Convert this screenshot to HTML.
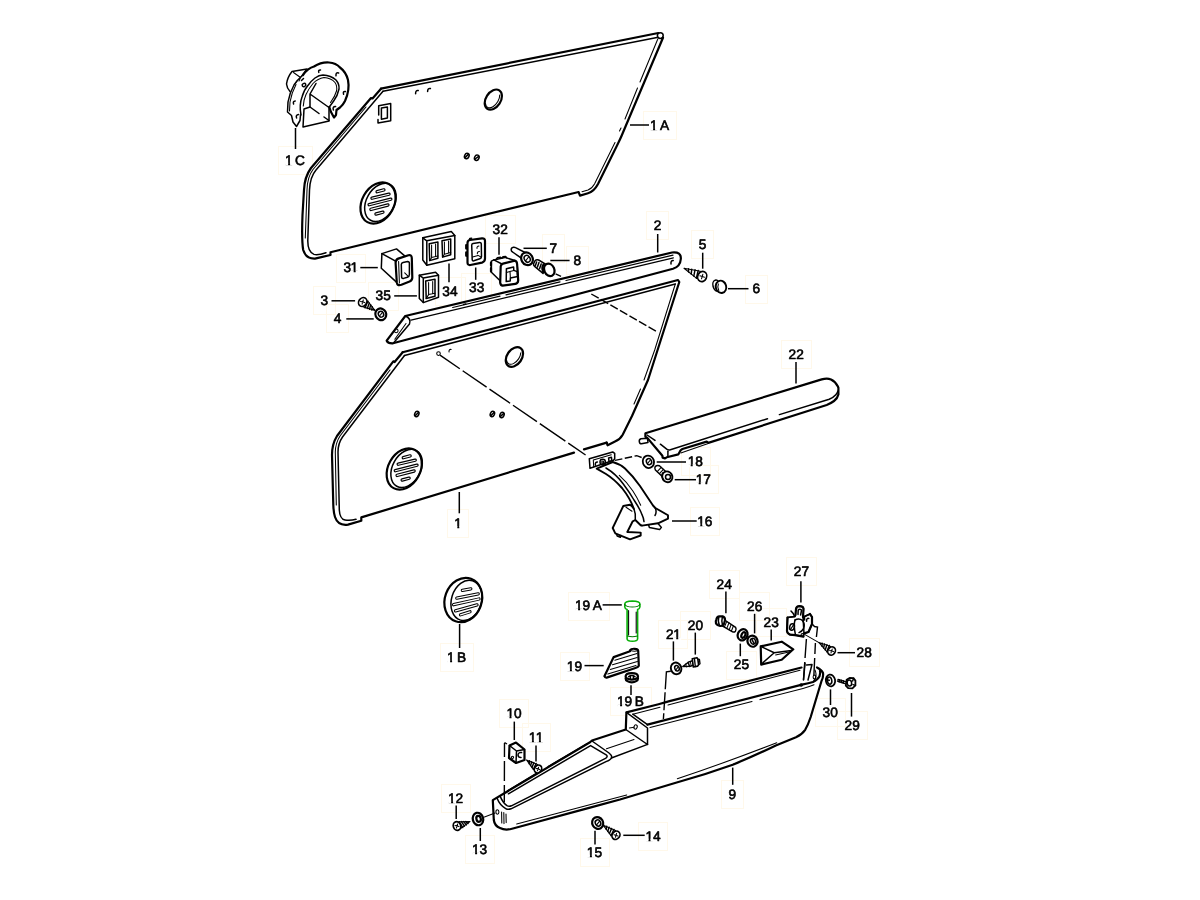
<!DOCTYPE html>
<html><head><meta charset="utf-8"><title>Door panel parts diagram</title>
<style>
html,body{margin:0;padding:0;background:#fff;}
body{width:1200px;height:900px;overflow:hidden;font-family:"Liberation Sans",sans-serif;}
svg{display:block;}
svg text{font-family:"Liberation Sans",sans-serif;font-size:13.7px;font-weight:normal;fill:#000;stroke:#000;stroke-width:0.62px;stroke-linejoin:round;text-rendering:geometricPrecision;}
.tx{filter:grayscale(1);}
.er{fill:#fff;stroke:none;}
.gl{fill:#000;stroke:#000;stroke-width:115;stroke-linejoin:round;}
.k{fill:none;stroke:#000;stroke-width:2.2;stroke-linecap:round;stroke-linejoin:round;}
.m{fill:none;stroke:#000;stroke-width:1.5;stroke-linecap:round;stroke-linejoin:round;}
.t{fill:none;stroke:#000;stroke-width:1.05;stroke-linecap:round;stroke-linejoin:round;}
.w{fill:#fff;stroke:#000;stroke-width:1.5;stroke-linecap:round;stroke-linejoin:round;}
.wk{fill:#fff;stroke:#000;stroke-width:2.2;stroke-linecap:round;stroke-linejoin:round;}
.wt{fill:#fff;stroke:#000;stroke-width:1.05;stroke-linecap:round;stroke-linejoin:round;}
.l{fill:none;stroke:#000;stroke-width:1.5;}
.d{fill:none;stroke:#000;stroke-width:1.4;}
.g{fill:#fff;stroke:#08b008;stroke-width:1.6;stroke-linejoin:round;}
</style></head><body>
<svg width="1200" height="900" viewBox="0 0 1200 900">
<rect x="0" y="0" width="1200" height="900" fill="#fff"/>
<g fill="none" stroke="#fff8ea" stroke-width="1"><rect x="643.5" y="111.5" width="33.0" height="28.0"/><rect x="278.5" y="146.5" width="34.0" height="28.0"/><rect x="646.5" y="211.5" width="22.0" height="28.0"/><rect x="447.5" y="509.5" width="21.0" height="28.0"/><rect x="781.5" y="340.5" width="30.0" height="28.0"/><rect x="690.5" y="507.5" width="29.0" height="28.0"/><rect x="681.5" y="447.5" width="29.0" height="28.0"/><rect x="689.5" y="465.5" width="29.0" height="28.0"/><rect x="336.5" y="254.5" width="29.0" height="28.0"/><rect x="435.5" y="277.5" width="30.0" height="28.0"/><rect x="368.5" y="282.5" width="30.0" height="28.0"/><rect x="461.5" y="273.5" width="30.0" height="28.0"/><rect x="485.5" y="215.5" width="30.0" height="28.0"/><rect x="542.5" y="234.5" width="22.0" height="28.0"/><rect x="566.5" y="246.5" width="22.0" height="28.0"/><rect x="313.5" y="286.5" width="22.0" height="28.0"/><rect x="326.5" y="304.5" width="22.0" height="28.0"/><rect x="691.5" y="230.5" width="22.0" height="28.0"/><rect x="745.5" y="275.5" width="22.0" height="28.0"/><rect x="721.5" y="780.5" width="22.0" height="28.0"/><rect x="440.5" y="643.5" width="33.0" height="28.0"/><rect x="568.5" y="592.5" width="41.0" height="28.0"/><rect x="560.5" y="652.5" width="29.0" height="28.0"/><rect x="610.5" y="687.5" width="41.0" height="28.0"/><rect x="658.5" y="620.5" width="29.0" height="28.0"/><rect x="680.5" y="611.5" width="30.0" height="28.0"/><rect x="709.5" y="570.5" width="30.0" height="28.0"/><rect x="726.5" y="651.5" width="30.0" height="28.0"/><rect x="739.5" y="592.5" width="30.0" height="28.0"/><rect x="756.5" y="608.5" width="30.0" height="28.0"/><rect x="786.5" y="557.5" width="30.0" height="28.0"/><rect x="849.5" y="638.5" width="30.0" height="28.0"/><rect x="815.5" y="698.5" width="30.0" height="28.0"/><rect x="837.5" y="711.5" width="30.0" height="28.0"/><rect x="499.5" y="699.5" width="29.0" height="28.0"/><rect x="522.5" y="723.5" width="28.0" height="28.0"/><rect x="441.5" y="784.5" width="29.0" height="28.0"/><rect x="465.5" y="835.5" width="29.0" height="28.0"/><rect x="580.5" y="838.5" width="29.0" height="28.0"/><rect x="638.5" y="822.5" width="29.0" height="28.0"/></g>
<!-- 00_defs.svg -->
<defs>
<g id="spk">
<ellipse class="wk" cx="0" cy="0" rx="16" ry="21.9" transform="rotate(29)"/>
<ellipse class="m" cx="2.4" cy="-0.6" rx="14" ry="20.4" transform="rotate(29 2.4 -0.6)"/>
<g stroke-linecap="round" fill="none">
<path stroke="#000" stroke-width="3.4" d="M-0.9,-11.3 L5.9,-13.1 M-6,-4.8 L11,-8.8 M-8.9,1.7 L12.8,-3.8 M-7.1,6.4 L9.9,2 M-2,11 L4.9,9.2"/>
<path stroke="#fff" stroke-width="1.1" d="M-0.9,-11.3 L5.9,-13.1 M-6,-4.8 L11,-8.8 M-8.9,1.7 L12.8,-3.8 M-7.1,6.4 L9.9,2 M-2,11 L4.9,9.2"/>
</g>
</g>
</defs>

<!-- 01_panel1A.svg -->
<g id="p1A">
<!-- outer outline -->
<path class="k" d="M381,88.7 L658.3,33"/>
<path class="m" d="M383,91.3 L657,37.6"/>
<circle class="m" cx="660.3" cy="35.6" r="2.9"/>
<path class="k" d="M663,37.8 L621.5,136 Q620,139.5 618,143.5 L598,184 Q594,191.5 588,193.3 L580,195.6 L578.6,192 L330.5,252.3 L330.5,255 L315,258.6 Q306,259 303.2,250 Q301.5,240 302.5,215 L304,190 Q304.5,177 311,168 L371,98 L372.5,98.5 L381,88.7"/>
<!-- inner right line -->
<path class="t" d="M657.8,39 L640,82"/>
<path class="t" d="M637.5,88 L625,119 "/>
<path class="t" d="M621,128 L619.5,131"/>
<path class="t" d="M615,142.5 L594.5,184 Q592,188.5 588,190 L582,191.7"/>
<!-- inner left line -->
<path class="m" d="M383,91.3 L316,170 Q310,177 309.5,190 L307.8,240 Q307.5,252 314,254.4 Q318,255.5 326,252.7"/>
<path class="t" d="M366,107 L313,169.5 Q307.3,177 307,190 L305.3,238"/>
</g>

<!-- 02_panel1A_details.svg -->
<g id="p1Adet">
<use href="#spk" x="378" y="203"/>
<!-- small c holes -->
<path class="m" d="M418.2,90.6 Q415.5,90 415.6,93.8"/>
<path class="m" d="M430.4,88.6 Q427.6,88 427.6,91.6"/>
<!-- rectangle cut-out -->
<path class="m" d="M378.7,115 L378.7,105.8 L390.7,103.6 L390.7,120.7 L378,122.9 L378,119.6"/>
<path class="m" d="M381.4,108 L387.4,107 L387.4,118 L381.4,119.2 Z"/>
<!-- oval hole -->
<ellipse class="k" cx="493.3" cy="99.6" rx="7.4" ry="11" transform="rotate(33 493.3 99.6)"/>
<path class="t" d="M499.7,95.0 A5.7,9.6 33 0 1 485.5,103.4"/>
<!-- e e holes -->
<ellipse class="m" cx="466.8" cy="156" rx="2.2" ry="2.8" transform="rotate(25 466.8 156)"/>
<path class="m" d="M465,157.6 L468,154.6"/>
<ellipse class="m" cx="476.8" cy="157.7" rx="2.2" ry="2.8" transform="rotate(25 476.8 157.7)"/>
<path class="m" d="M475,159 L478.4,156.6"/>
<!-- label 1A -->
<path class="l" d="M630,125 L649,125"/>
<text class="tx" x="650.05 660.00" y="129.60">1A</text><path class="er" d="M650.15,127.60h2.95v3h-2.95z M655.10,127.60h3v3h-3z"/>
<!-- label 1C -->
<path class="l" d="M295.5,128 L295.5,149"/>
<text class="tx" x="285.05 295.00" y="164.50">1C</text><path class="er" d="M285.15,162.50h2.95v3h-2.95z M290.10,162.50h3v3h-3z"/>
</g>

<!-- 03_part1C.svg -->
<g id="p1C">
<!-- back housing -->
<path class="m" d="M307,69 L292,71.5 Q287.5,77 286.5,84 Q287,88.5 290,91.5"/>
<path class="t" d="M293.5,72.5 L300.5,77.5 L306,69.8"/>
<path class="t" d="M300.5,77.5 L299,81"/>
<!-- flange outer -->
<path class="k" d="M303,75 Q308,68 314,66.5 Q321,62 329,62.5 Q336,63 340,67.5 Q346,72 348,80 Q350,90 345,101 Q343,105 340,107.5 L336.5,110 L336,115 L334,117.5 L331,112 L329.3,107"/>
<path class="m" d="M303,75 Q297,80 294,85 Q289.5,93 288,102 L287.5,112 L291.5,115.5 L293,122 L296.5,126.5 L300,120.5 L300.5,115"/>
<!-- left edge thickness -->
<path class="t" d="M296,84.5 Q291.5,93 290,102 L289.5,111"/>
<!-- inner arcs -->
<path class="m" d="M301,115 Q299,105 302,97 Q304,90 307.5,86 Q311,81 315,78 Q319,75 323,75 Q331,75.5 336,80 Q339.5,84 339,89 Q337.5,96 334,100.5 L329.3,107"/>
<path class="t" d="M303.3,106 Q303.5,100 306,94.5 Q309,88 313,83.5 Q318,78.5 324,77.6 Q331,78 335,82.5 Q337.5,86 336.5,91 Q335,96.5 330.5,102.5"/>
<!-- inner box -->
<path class="m" d="M316,83.5 L310,94 L310,107 L304,109 L303,127 L329,121 L329,107.5 L310,94"/>
<path class="m" d="M310,107 L319,113.5"/>
<path class="m" d="M324,117 L329,120.5"/>
<!-- bolt holes -->
<path class="m" d="M320.5,70 Q318,69.8 318.8,72.4"/>
<path class="m" d="M338.6,73 Q335.6,72.2 336,75.8"/>
<path class="m" d="M345.4,91.6 Q342.6,91.2 343.6,94.2"/>
<path class="m" d="M335.6,106.6 Q332.2,106.4 333.4,110"/>
<path class="m" d="M295.2,101 Q292.6,101.2 293.6,104"/>
<path class="m" d="M298.6,114.6 Q295.4,115 296.6,118"/>
<ellipse class="m" cx="304" cy="85" rx="1.9" ry="1.5" transform="rotate(-30 304 85)"/>
<path class="m" d="M301.5,80.5 L303.5,78.5"/>
</g>

<!-- 04_strip2.svg -->
<g id="p2">
<path class="wk" d="M405.3,316 L672,252.5 Q681.5,251.5 680.8,259 Q680.3,266.5 673,268.7 L393,343.3 Q388,343.6 386.7,340.7 Z"/>
<path class="m" d="M405.3,316 Q411.5,318.5 409.5,324 L393.5,343"/>
<path class="t" style="stroke-width:1.2" d="M452.7,307.5 L500,296.2 M506,294.8 L560,281.9 M566,280.5 L673,255.1"/>
<path class="t" style="stroke-width:1.25" d="M411,320.2 L673.4,257.8"/>
<path class="t" d="M406,323.5 L394.8,339.3"/>
<circle class="t" cx="396.2" cy="330.8" r="1.9"/>
<path class="m" d="M463.6,304.4 L465.8,303.9"/>
<path class="m" d="M673.2,260.6 Q670.6,260.4 671,264"/>
<!-- label 2 -->
<path class="l" d="M657.7,234 L657.7,252.5"/>
<text class="tx" x="653.80" y="230.00">2</text>
</g>

<!-- 05_panel1.svg -->
<g id="p1">
<path class="k" d="M402.7,352.2 L678,280 L679.3,282 L648,380 L632,416 L622.7,434.7 Q620,439.5 615,441.6 L607.6,445.3 L606.7,442.6"/>
<path class="k" d="M606.7,442.6 L584,449.4 M574,452.6 L361.3,517.4 L361.3,520.7 L348,524.6 Q338,526 335,517 Q333.6,513 333.3,505 L332,455 Q332,444 337,436 L393.3,361.3 L394.6,362 L402.7,352.2"/>
<!-- inner lines -->
<path class="m" d="M404.5,355.5 L675.3,284 "/>
<path class="t" d="M675.3,284 L654.7,350 L644,380 M640.5,389 L634,404"/>
<path class="m" d="M404.5,355.5 L342.5,437 Q338,443.5 338,452 L339.3,510 Q339.8,519 345,520 Q350,521 356,519.3"/>
<path class="t" d="M390,370 L340,436 Q335.5,443 335.3,452 L336.3,505"/>
<!-- holes -->
<circle class="t" cx="438.5" cy="353.6" r="1.8"/>
<path class="t" d="M451.2,349.4 Q448.8,349 449,352"/>
<ellipse class="m" cx="416.8" cy="414" rx="2" ry="2.8" transform="rotate(25 416.8 414)"/>
<path class="m" d="M415.4,415.6 L418.4,412.4"/>
<ellipse class="m" cx="492.4" cy="414" rx="2" ry="2.8" transform="rotate(25 492.4 414)"/>
<path class="m" d="M491,415.6 L494,412.4"/>
<ellipse class="m" cx="502" cy="415" rx="2" ry="2.8" transform="rotate(25 502 415)"/>
<path class="m" d="M500.4,416.4 L503.6,413.6"/>
<ellipse class="k" cx="514.4" cy="357" rx="7.4" ry="10.8" transform="rotate(35 514.4 357)"/>
<path class="t" d="M520.8,352.8 A5.7,9.4 35 0 1 506.6,360.4"/>
<path class="d" stroke-dasharray="24 3.5 29 3.5 25 3.5 29 3.5 31 3.5 21" d="M440,355.2 L586.5,455.6"/>
<path class="d" stroke-dasharray="8.5 2.5" d="M591.3,294 L657.5,332"/>
<!-- label 1 -->
<path class="l" d="M459.3,492 L459.3,513.3"/>
<text class="tx" x="454.25" y="528.00">1</text><path class="er" d="M454.35,526.00h2.95v3h-2.95z M459.30,526.00h3v3h-3z"/>
<use href="#spk" x="404.2" y="469"/>
</g>

<!-- 06_armrest22.svg -->
<g id="p22">
<path class="w" d="M647.4,438.2 L641,438.8 Q639,439.4 639.3,441.6 Q639.6,443.8 641.4,443.8 L648,442.4 Z"/>
<path class="wk" d="M645.4,433.3 L821.7,379.4 Q827,377.8 831,379.4 Q835.6,381.6 837.6,386 L838.4,387.8 L838.4,394.6 Q837.6,398.4 834,401 Q830.4,403.6 826.7,405 L708.3,442.9 L706.7,441.6 L682.4,449 Q680.4,450 679.6,452 L678.3,454.4 L666.7,457.3 L665,458.4 L662.6,457.6 L662.4,455.8 L647.1,437.6 L645.4,436.7 Z"/>
<path class="m" d="M647.1,435 L655,440.4 M660.4,444.2 L666.7,449.2 Q668.4,450.3 670.4,449.7 L767.5,418.7 M779.4,414.6 L829.2,399.2 Q833.6,397.4 835.8,394.8 Q837.4,393 838,391"/>
<path class="m" d="M667.9,451.2 L667.9,456.4"/>
<path class="t" d="M680.8,452.9 L707.5,443.8"/>
<!-- label 22 -->
<path class="l" d="M796,362 L796,383.5"/>
<text class="tx" x="788.40 796.15" y="358.60">22</text>
</g>

<!-- 07_bracket16.svg -->
<g id="p16">
<!-- arm -->
<path class="w" style="stroke-width:1.9" d="M612.7,462 Q620,464 625,468.5 Q633,476 640,486 Q648,498 653,505.5 L655.3,508 L668,515.3 L668,518.7 L658,523.3 L642,525.6 L640.7,525.3 L635.3,520 L632.7,521.3 L627.3,532 L640.7,532.6 L640.7,535.5 L630,539.3 L615.3,533.3 L612.7,528 L623.3,506 L630,504.7 Q632,506 634,509 Q630,498 622,488 Q614,479 606,474 L596.7,468.7 Z"/>
<path class="m" d="M606,468 Q616,474 623.3,484 Q630,493 634,500 Q640,509 642,514.7 Q643.6,518 644,521.6"/>
<path class="t" d="M619.3,475.3 Q627,482 632.7,490.7 Q637,497 640.7,505.3"/>
<path class="t" d="M626,507.3 L632,511.3"/>
<path class="m" d="M634,509 Q636,514 635.3,520"/>
<path class="m" d="M640.7,525.3 L642,525.6"/>
<path class="m" d="M655.3,508 Q657,512.5 655,515.5"/>
<!-- feet -->
<path class="m" d="M616.6,534.2 L617.2,536 L620.4,537.2 L620.8,535.6"/>
<path class="m" d="M648.7,525.2 L649.4,527.6 L659.6,529.6 L661.4,527.4 L658,523.6"/>
<!-- hinge plate -->
<path class="w" d="M589.3,458.7 L612.7,452 L614.7,453.3 L614.7,458.7 L613.6,460.2 L590,468.2 Z"/>
<path class="t" d="M611.3,454.8 L593.3,460 L593.7,466.7"/>
<path class="m" d="M597.4,462 Q594.8,462 595.4,465.2"/>
<circle class="m" cx="602.7" cy="462" r="2.7"/>
<circle class="t" cx="602.7" cy="462" r="1"/>
<path class="m" d="M608.6,458 L611.4,457.2 L611.8,460.6 L609,461.6 Z"/>
<!-- label 16 -->
<path class="l" d="M672,521 L696.7,521"/>
<text class="tx" x="697.25 704.80" y="525.60">16</text><path class="er" d="M697.35,523.60h2.95v3h-2.95z M702.30,523.60h3v3h-3z"/>
</g>

<!-- 08_17_18.svg -->
<g id="p1718">
<!-- dashed from hinge -->
<path class="d" stroke-dasharray="7.5 2.5" d="M615,460.4 L636.7,455.7 L642,457.6"/>
<!-- washer 18 -->
<ellipse class="w" style="stroke-width:1.8" cx="648.4" cy="461.8" rx="5.6" ry="6.3" transform="rotate(-20 648.4 461.8)"/>
<ellipse class="m" cx="649" cy="461.6" rx="2.6" ry="3.1" transform="rotate(-20 649 461.6)"/>
<path class="t" d="M647.6,463.4 L650.4,460"/>
<!-- bolt 17 -->
<path class="w" d="M655.2,466.6 Q654.2,468.2 655.4,470 L662,476.2 L666,471.8 L659.4,465.8 Q657,464.8 655.2,466.6 Z"/>
<path class="t" d="M657.2,471.6 L661.2,467.4 M659.4,473.6 L663.4,469.4"/>
<ellipse class="w" style="stroke-width:1.9" cx="667.3" cy="476.8" rx="5" ry="5.5" transform="rotate(-30 667.3 476.8)"/>
<path class="m" d="M662.6,473 Q661,476 663.4,480"/>
<circle class="m" cx="668" cy="477" r="2.5"/>
<path class="l" d="M656.7,462 L686,462"/>
<text class="tx" x="687.65 695.20" y="466.20">18</text><path class="er" d="M687.75,464.20h2.95v3h-2.95z M692.70,464.20h3v3h-3z"/>
<path class="l" d="M674.7,479.7 L696,479.7"/>
<text class="tx" x="695.65 703.20" y="484.20">17</text><path class="er" d="M695.75,482.20h2.95v3h-2.95z M700.70,482.20h3v3h-3z"/>
</g>

<!-- 09_switches.svg -->
<g id="switches">
<!-- 31 -->
<path class="w" d="M381.9,253.6 L396.5,248.9 L404.7,255.9 L398,262 L397,282.6 L381.3,268.2 Z"/>
<path class="m" d="M381.9,253.6 L395.6,261.2"/>
<path class="wk" d="M398.2,258.6 L408.4,255.2 Q411.6,254.4 411.8,258 L412.3,277.6 Q412.3,280.4 409.6,281.6 L401.4,284.8 Q397.2,286.2 396.8,282.4 L395.6,262.8 Q395.6,259.6 398.2,258.6 Z"/>
<path class="t" d="M398.6,261.4 L399.4,283"/>
<path class="m" d="M403,262.4 L407.6,261.6 Q409.4,261.6 409.4,263.6 L409.4,274.6 Q409.4,276.6 407.4,277.2 L403.6,278.4 Q401.6,278.8 401.6,276.8 L401.3,264.6 Q401.3,262.8 403,262.4 Z"/>
<path class="t" d="M404.7,272.8 L408.2,276.4"/>
<path class="l" d="M360.3,267.6 L377.8,267.6"/>
<text class="tx" x="343.40 350.60" y="272.40">31</text><path class="er" d="M350.70,270.40h2.95v3h-2.95z M355.65,270.40h3v3h-3z"/>
<!-- 34 -->
<path class="w" d="M422.8,237.8 L451.3,231.4 L454.8,235.4 L454.8,258.8 L426.8,265.3 L422.8,260 Z"/>
<path class="m" d="M426.8,265.3 L426.8,240.8 L454.8,235.4 M426.8,240.8 L422.8,237.8"/>
<path class="m" d="M429.2,243.7 L437.9,241.9 L437.9,258.3 L429.7,260.6 Z"/>
<path class="t" d="M431.6,245 L431.6,257.6 L429.7,260.6 M431.6,257.6 L437.9,256 M435.6,244 L435.6,256.2"/>
<path class="m" d="M442,240.8 L450.7,239 L450.7,254.8 L442.6,257.1 Z"/>
<path class="t" d="M444.4,242 L444.4,254.2 L442.6,257.1 M444.4,254.2 L450.7,252.6 M448.6,241 L448.6,253"/>
<path class="l" d="M449,263.5 L449,282.2"/>
<text class="tx" x="442.20 449.95" y="295.70">34</text>
<!-- 35 -->
<path class="w" d="M419.3,275.2 L435.6,272.2 L438.5,275.2 L438.5,297.3 L423.3,302.6 L419.3,298.5 Z"/>
<path class="m" d="M423.3,302.6 L423.3,278.1 L438.5,275.2 M423.3,278.1 L419.3,275.2"/>
<path class="m" d="M425.7,281 L435,279.2 L435,296.2 L426.2,298.5 Z"/>
<path class="t" d="M428.6,282.4 L428.6,294.6 L426.2,298.5 M428.6,294.6 L435,293.2 M432.7,281.4 L432.7,293.8"/>
<path class="l" d="M394.2,295.9 L416.9,295.9"/>
<text class="tx" x="375.60 383.35" y="300.40">35</text>
<!-- 33 -->
<path class="wk" d="M470,240 L482,238.4 Q485,238.2 485,241 L485,258.6 Q485,261.8 482,262.6 L470.4,265 Q467.5,265.4 467.5,262.4 L467.5,243 Q467.5,240.4 470,240 Z"/>
<path class="m" d="M473,243.6 L479.6,242.6 Q481.2,242.4 481.3,244 L481.5,256.4 Q481.5,258.2 479.8,258.8 L473.8,260.8 Q472.2,261.2 472.2,259.6 L471.7,245.2 Q471.7,243.8 473,243.6 Z"/>
<path class="t" d="M479,246 Q476.6,246.4 477,248.4 M479.4,251.4 Q477,251.8 477.4,253.8 M472.6,257 L478,255.4 L481,257"/>
<path class="k" d="M466.2,245 L466.2,248.6 M466.2,252.4 L466.2,255.8"/>
<path class="m" d="M469.4,239.8 L469.8,238.4 L471.6,238.2"/>
<path class="l" d="M475.7,267.5 L475.7,279.8"/>
<text class="tx" x="469.00 476.75" y="291.50">33</text>
<!-- 32 -->
<path class="w" d="M493.8,259.9 L504.8,257.4 L514.8,260.4 L517.1,264 L518.2,280.4 Q518,283.2 515.3,283.8 L501.3,285.6 L499.6,280.3 L491.4,272.2 L491.4,261.1 Z"/>
<path class="wk" d="M503,263.6 L514.8,260.6 Q516.8,260.8 517.1,264 L518.2,280.4 Q518,283.4 515.3,283.8 L502.6,285.6 Q500.4,285.4 500.2,282.7 L500.7,266.3 Q500.9,264.2 503,263.6 Z"/>
<path class="m" d="M493.8,259.9 L502,264"/>
<path class="m" d="M496.4,259.2 L497.4,257.8 L500.4,257.2 L501,258.2 M502,258 L503,256.8 L505.6,256.6 L506.6,257.8"/>
<path class="k" d="M491,262.6 L491,265.6 M491,268.2 L491,271.4"/>
<path class="m" d="M506.4,268.8 L513.6,266.9 L513.8,270.4 L517.2,271.6 L517.6,276.4 L510.4,278 L510.2,281 L506.2,281.6 Z"/>
<path class="t" d="M506.4,272.6 L510,271.4 L513.8,270.4 M510,271.4 L510.4,278"/>
<path class="l" d="M499,237.2 L499,254.7"/>
<text class="tx" x="492.60 500.35" y="233.80">32</text>
</g>

<!-- 10_fasteners_top.svg -->
<g id="fast1">
<!-- pin 7 -->
<path class="w" d="M513.4,247.2 Q511,247.6 511.2,250 Q511.2,251.2 512.6,252 L522,258.6 L526,253 L515.6,247.6 Q514.6,247 513.4,247.2 Z"/>
<ellipse class="wk" cx="527" cy="258.8" rx="5.6" ry="6.6" transform="rotate(-30 527 258.8)"/>
<ellipse class="m" cx="527.2" cy="258.8" rx="2.8" ry="3.6" transform="rotate(-30 527.2 258.8)"/>
<path class="t" d="M525.8,260.6 L528.6,257"/>
<path class="l" d="M523.5,248.3 L546.8,248.3"/>
<text class="tx" x="549.60" y="253.00">7</text>
<!-- plug 8 -->
<path class="w" d="M535,260.8 L533.6,263.6 Q533.2,265.2 534.6,266.4 L543,273.4 L548,265.6 L538.6,260 Q536.4,259.2 535,260.8 Z"/>
<path class="m" d="M536.6,262 L535.4,265.4 M539,262.6 L537.4,267 M541.2,264 L539.6,268.6 "/>
<path class="k" d="M543.6,264.4 Q541.2,268 543.4,272.2"/>
<path class="m" d="M545.8,265.2 Q543.6,269.4 546,273.8"/>
<ellipse class="wk" cx="549.3" cy="269.8" rx="5" ry="6.5" transform="rotate(-25 549.3 269.8)"/>
<path class="l" d="M550.3,260.5 L569.6,260.5"/>
<text class="tx" x="573.60" y="264.80">8</text>
<path class="d" stroke-dasharray="6 2" d="M555.6,273.9 L561.4,276.6"/>
<!-- screw 3 -->
<path fill="#fff" stroke="#000" stroke-width="1.1" stroke-linejoin="round" d="M367.7,301.0 L374.9,310.4 L363.5,307.0 Z"/><path fill="none" stroke="#000" stroke-width="1.45" stroke-linecap="round" d="M372.2,306.8 L371.8,310.0 M370.7,304.9 L369.5,309.3 M369.3,303.1 L367.3,308.6 M367.8,301.2 L365.0,307.9"/><ellipse fill="#fff" stroke="#000" stroke-width="1.7" cx="362.7" cy="302.0" rx="3.9" ry="4.7" transform="rotate(-145.5 362.7 302.0)"/><path class="t" d="M360.6,301.4 L364.8,302.6 M363.3,299.9 L362.1,304.1"/>
<path class="l" d="M331.5,300.8 L355.1,300.8"/>
<text class="tx" x="320.60" y="305.20">3</text>
<!-- washer 4 -->
<ellipse class="wk" cx="380.8" cy="314.3" rx="5.4" ry="5.9" transform="rotate(-25 380.8 314.3)"/>
<ellipse class="m" cx="381" cy="314.2" rx="2.6" ry="3" transform="rotate(-25 381 314.2)"/>
<path class="t" d="M379.8,315.8 L382.2,312.6"/>
<path class="l" d="M346.3,318.9 L373.7,318.9"/>
<text class="tx" x="333.80" y="323.20">4</text>
<!-- screw 5 -->
<path fill="#fff" stroke="#000" stroke-width="1.1" stroke-linejoin="round" d="M697.0,278.6 L684.0,268.3 L700.3,271.2 Z"/><path fill="none" stroke="#000" stroke-width="1.45" stroke-linecap="round" d="M688.6,272.0 L688.5,268.7 M691.2,274.1 L691.7,269.2 M693.8,276.1 L695.0,269.8 M696.4,278.2 L698.2,270.4"/><ellipse fill="#fff" stroke="#000" stroke-width="1.7" cx="702.2" cy="276.5" rx="4.4" ry="5.2" transform="rotate(24.3 702.2 276.5)"/><path class="t" d="M699.9,275.8 L704.5,277.2 M702.9,274.2 L701.5,278.8"/>
<path class="l" d="M702.7,252.7 L702.7,268.7"/>
<text class="tx" x="698.80" y="248.80">5</text>
<!-- plug 6 -->
<ellipse class="w" cx="716.6" cy="285.6" rx="3.6" ry="5.6" transform="rotate(-15 716.6 285.6)"/>
<ellipse class="w" style="stroke-width:1.9" cx="721" cy="286.8" rx="5.2" ry="6.2" transform="rotate(-15 721 286.8)"/>
<path class="t" d="M718.4,284 Q717,287 718.8,290.6"/>
<path class="l" d="M728,288.7 L748.5,288.7"/>
<text class="tx" x="752.40" y="293.40">6</text>
</g>

<!-- 11_pocket9.svg -->
<g id="p9">
<!-- silhouette -->
<path fill="#fff" stroke="none" d="M492.8,800.1 L590,742.3 L592,740.5 L625.8,729.5 L626.4,712.4 L658.5,704.2 L668.6,701.4 L801.5,667.5 L817,667.4 Q821.6,669.6 823,673 Q823.6,677 821.5,681 L810.7,717 Q808,725 805.2,729.8 Q802,734.4 796,737.2 L775.8,745.4 Q754,756 732.7,764.7 Q704,775 675,783 L620,799.5 L590,807.6 L512,828.8 Q505,830.6 500,828 Q494.6,826 493.8,820 Z"/>
<path class="k" d="M801.5,667.5 L668.6,701.4 L658.5,704.2 L626.4,712.4 L625.8,729.5 L592,740.5 L590,742.3 L492.8,800.1 L493.8,820 Q494.6,826 500,828 Q505,830.6 512,828.8 L590,807.6 L620,799.5 L675,783 Q704,775 732.7,764.7 Q754,756 775.8,745.4 L796,737.2 Q802,734.4 805.2,729.8 Q808,725 810.7,717 L821.5,681 Q823.6,677 823,673 Q821.6,669.6 817,667.4"/>
<!-- narrow part loop (outer + inner rim) -->
<path class="m" d="M497,798 Q499.6,805 505.7,808.6 Q508,810 511,808.8 L606,761.6 Q612.4,759 611.6,756.6 Q611.6,755 609,753 L592,741"/>
<path class="m" d="M500.2,796.4 Q503,803 507,805.6 Q509,806.8 511.4,805.8 L604,759.2 Q608.4,757 606.6,755.2 L590.6,745.6 L508.4,793.8"/>
<path class="t" d="M507.5,790.6 L540,771 M548,766.4 L587,743.6"/>
<!-- left end face details -->
<ellipse class="t" cx="497.4" cy="812" rx="1.5" ry="2.2"/>
<path class="t" d="M501.6,812 L501.8,823 M503.8,812.6 L504,823.6 M506,814 L506.2,822.6"/>
<!-- sloped part -->
<path class="m" d="M611.4,758 L647.6,744.4"/>
<path class="t" d="M606.5,748.8 L634,739.6"/>
<!-- raised box face -->
<path class="m" d="M626.4,712.4 L647.5,728 L647.5,744.5 L625.8,729.5"/>
<ellipse class="t" cx="635.6" cy="727" rx="1.6" ry="2.2" transform="rotate(20 635.6 727)"/>
<path class="t" d="M629.4,728 L634,727.2"/>
<!-- main opening -->
<path class="k" d="M647.5,724.6 L802,684.6 Q809,683.2 813,682 Q817.6,680 819.4,676.6 Q820.6,672.6 820,671"/>
<path class="t" d="M650,727.6 L752,701.6 M760,699.6 L803,688.4 Q810,686.6 814,684.8"/>
<path class="t" d="M813,682 Q816.4,678 816,674 Q815.8,671.6 815,670"/>
<path class="m" d="M632.8,714.2 L647.5,724.6"/>
<path class="t" d="M632.8,714.2 L660,707.2 M668,705 L800,670.2"/>
<!-- bottom highlight lines -->
<path class="t" d="M677.3,778.7 Q722,764 776.7,742.7"/>
<path class="t" d="M516.7,824 L626.7,795"/>
<!-- right-end details -->
<path class="m" d="M806.5,665 L812,664.5 L808,680"/>
<path class="m" d="M805,663.2 L803.5,680"/>
<ellipse class="t" cx="814.5" cy="677" rx="1.4" ry="2"/>
<circle class="t" cx="801.2" cy="685" r="1.3"/>
<!-- label 9 -->
<path class="l" d="M732.7,767.6 L732.7,784.8"/>
<text class="tx" x="728.60" y="798.80">9</text>
</g>

<!-- 12_lower_small.svg -->
<g id="lower">
<!-- 1B speaker -->
<ellipse class="wk" cx="463.3" cy="600" rx="18.4" ry="22.6" transform="rotate(20 463.3 600)"/>
<ellipse class="m" cx="466.5" cy="600.4" rx="15" ry="20.6" transform="rotate(17 466.5 600.4)"/>
<g stroke-linecap="round" fill="none">
<path stroke="#000" stroke-width="3.3" d="M462.4,590.4 L470.8,588.9 M456.8,598.2 L478.2,593.8 M453.6,604.7 L479,599 M455.5,610.9 L477,604.9 M460.5,614.8 L470,611.8"/>
<path stroke="#fff" stroke-width="1.3" d="M462.4,590.4 L470.8,588.9 M456.8,598.2 L478.2,593.8 M453.6,604.7 L479,599 M455.5,610.9 L477,604.9 M460.5,614.8 L470,611.8"/>
</g>
<path class="l" d="M459.6,624 L459.6,648"/>
<text class="tx" x="447.05 457.00" y="662.00">1B</text><path class="er" d="M447.15,660.00h2.95v3h-2.95z M452.10,660.00h3v3h-3z"/>
<!-- 19A pin (highlighted green) -->
<path class="g" d="M624.8,604 Q624.8,601.2 632.3,601 Q639.9,601.2 639.9,604 L639.9,607 Q639.6,609 637.6,609.6 L637.6,639 Q637.4,641.2 632.4,641.2 Q627.3,641.2 627.1,639 L627.1,609.6 Q625,609 624.8,607 Z"/>
<path class="t" style="stroke:#070" d="M624.8,604.4 Q626,607 632.3,607 Q638.8,607 639.9,604.4"/>
<path class="t" d="M628.6,610.4 L628.6,635 M636.2,612 L636.2,633"/>
<path class="t" style="stroke:#070" d="M627.3,636 Q632.4,637.6 637.5,636"/>
<path class="l" d="M602.6,604.9 L621.8,604.9"/>
<text class="tx" x="575.05 582.60 592.75" y="610.40">19A</text><path class="er" d="M575.15,608.40h2.95v3h-2.95z M580.10,608.40h3v3h-3z"/>
<!-- 19 ribbed plate -->
<path class="wk" d="M613.7,657.1 L630,651.2 L630.2,650 Q631,648.6 634.7,648.8 Q638,649 638.2,650.8 L638.8,665.6 Q638.6,667.2 634.7,668.2 L607.4,677.4 Q605,678 604.4,676.2 Z"/>
<path class="t" d="M614.8,660.2 L637,653.6 M612.5,664.8 L637.2,657.6 M610.2,669.4 L637.4,661.4 M607.8,674 L636,665.6"/>
<path class="t" d="M630.4,650.6 Q634,651.6 638,650.8"/>
<path class="l" d="M584.5,665.6 L603.7,665.6"/>
<text class="tx" x="566.85 574.40" y="670.60">19</text><path class="er" d="M566.95,668.60h2.95v3h-2.95z M571.90,668.60h3v3h-3z"/>
<!-- 19B grommet -->
<ellipse class="wk" cx="631.8" cy="678.4" rx="6.2" ry="3.9"/>
<path class="wk" d="M625.6,676.4 Q625.8,673.2 631.8,673.2 Q637.8,673.2 638,676.4 Q637.6,679.4 631.8,679.6 Q626,679.4 625.6,676.4 Z"/>
<path class="m" d="M628.6,676.6 Q631.8,674.6 635,676.6 M630.4,677 L630.2,679.4 M633.4,677 L633.4,679.4"/>
<path class="l" d="M631,685.2 L631,695"/>
<text class="tx" x="617.05 624.60 634.75" y="706.20">19B</text><path class="er" d="M617.15,704.20h2.95v3h-2.95z M622.10,704.20h3v3h-3z"/>
<!-- 21 washer -->
<path class="d" stroke-dasharray="22 3 18 3" d="M670.8,671.2 L666.4,671.8 L663.4,719"/>
<ellipse class="w" style="stroke-width:1.9" cx="676.1" cy="668.4" rx="5.2" ry="5.9" transform="rotate(-20 676.1 668.4)"/>
<ellipse class="m" cx="677" cy="668.2" rx="2.2" ry="2.8" transform="rotate(-20 677 668.2)"/><path class="t" d="M675.8,670 L678.4,666.6"/>
<path class="l" d="M673.4,641.4 L673.4,660.6"/>
<text class="tx" x="666.00 673.20" y="639.20">21</text><path class="er" d="M673.30,637.20h2.95v3h-2.95z M678.25,637.20h3v3h-3z"/>
<!-- 20 screw -->
<g transform="translate(691 662) scale(0.9) translate(-691 -660.4)">
<path class="m" d="M681.8,665.4 L688,660.8 L689.6,665.2 Z"/>
<path class="w" d="M688,660.6 L692.6,659 L693.8,663.8 L689.4,665.4 Z"/>
<path class="t" d="M685,662.6 L686,666 M690.2,659.8 L691.2,664.6"/>
<path class="w" style="stroke-width:1.8" d="M692.4,656.8 L697.6,655.6 L698.6,657.2 L699.4,663.4 L698.4,665 L693.6,666 Z"/>
<path class="m" d="M694.8,656.4 L695.8,665.4 M698.6,657.2 L700.4,657.6 L701,662.4 L699.4,663.4"/>
</g>
<path class="l" d="M695.3,632.6 L695.3,654.6"/>
<text class="tx" x="687.80 695.55" y="629.80">20</text>
<!-- 24 bolt -->
<path class="w" d="M724.6,620 L735.6,627.4 Q736.8,629.4 735.4,631.2 Q734.2,632.6 732.6,631.8 L721.8,625.6 Z"/>
<path class="t" d="M726.8,621.4 L724.4,627 M729,622.8 L726.8,628.4 M731.2,624.4 L729.2,629.8 M733.4,626 L731.4,631"/>
<path class="wk" d="M716.4,619.2 Q717,616.6 719.4,616.4 L722.6,616.4 Q725.2,617.4 725,620 L724,624 Q722.8,626.2 720.4,626 L717.4,625 Q715.4,623.4 715.8,621.4 Z"/>
<path class="m" d="M718.8,617 Q717.6,620.6 719.4,625.6 M722.4,616.6 Q721.2,620.8 722.6,625.8"/>
<path class="l" d="M725.9,591.6 L725.9,613.2"/>
<text class="tx" x="716.60 724.35" y="588.80">24</text>
<!-- 25 lock washer -->
<ellipse class="wk" cx="742.6" cy="634.8" rx="4.8" ry="5.8" transform="rotate(25 742.6 634.8)"/>
<ellipse class="k" cx="743.4" cy="635" rx="1.8" ry="3" transform="rotate(25 743.4 635)"/>
<path class="l" d="M740.3,643.6 L740.3,656.2"/>
<text class="tx" x="733.80 741.55" y="669.40">25</text>
<!-- 26 nut -->
<ellipse class="wk" cx="752.5" cy="641.2" rx="5" ry="5.6" transform="rotate(-20 752.5 641.2)"/>
<ellipse class="m" cx="753" cy="641.2" rx="2.5" ry="3" transform="rotate(-20 753 641.2)"/>
<path class="m" d="M752,639.4 L753.8,643.2"/>
<path class="l" d="M754.6,613.8 L754.6,633.4"/>
<text class="tx" x="747.00 754.75" y="611.00">26</text>
<!-- 23 wedge -->
<path class="wk" d="M760.7,646.4 L781.7,641.7 L793.3,649.3 L781.7,659.8 L761.2,664.6 Z"/>
<path class="m" d="M760.7,646.4 L774.2,652.8 L791.4,650.4 M774.2,652.8 L761.8,663.8"/>
<path class="t" d="M775.6,655 L790,651.8"/>
<path class="l" d="M771.2,629.6 L771.2,640.6"/>
<text class="tx" x="763.60 771.35" y="626.80">23</text>
</g>

<!-- 13_lower_small2.svg -->
<g id="lower2">
<!-- 27 latch -->
<path class="w" d="M787.5,617.5 L795,616.5 L795.5,615 L796,609 Q796.4,606.4 799.5,606.2 Q803,606.2 803.5,608.6 L803,616.8 L804.5,616.5 L810,614 L812,617 L812,624 L808.5,632 L804,633.4 L803.6,636.4 L795,635 L790,634.6 Q787.2,633.4 787,631 Z"/>
<path class="wk" d="M795.5,615 L796,609 Q796.4,606.4 799.5,606.2 Q803,606.2 803.5,608.6 L803,617"/>
<path class="m" d="M798,614.4 L798.2,610 Q799.6,608.6 801.6,610 L800.6,615"/>
<path class="m" d="M791,611 L793,613.2 M793,613.2 L794.6,616.4"/>
<path class="k" d="M787.5,617.5 L787,631 Q787.2,633.6 790,634.6 L795,635.2 L803.4,636.6"/>
<path class="m" d="M787.5,617.5 L795,616.5"/>
<path class="m" d="M795,620 Q799,617.6 802.4,620.4 Q805.4,624 803.6,628.4 Q802,631.6 799,632.6"/>
<path class="m" d="M795,620 Q793.4,625 795.4,634.6"/>
<ellipse class="m" cx="792" cy="627" rx="2.3" ry="3.3" transform="rotate(15 792 627)"/>
<path class="t" d="M790.6,629.4 L793.6,624.6"/>
<path class="m" d="M804.5,616.5 L804.6,620 M803,617 L804,633.4"/>
<path class="k" d="M810,614 L812,617 L812,624 L808.5,632 L804,633.4"/>
<path class="m" d="M804.5,616.5 L810,614"/>
<path class="m" d="M808.8,618.4 Q806.4,618 806.6,621.2"/>
<circle class="t" cx="802.4" cy="635" r="1.4"/>
<path class="l" d="M800.9,581.2 L800.9,602.6"/>
<text class="tx" x="793.80 801.55" y="576.00">27</text>
<!-- bracket dashed right of 27 -->
<path class="d" d="M812.6,624.6 L814.5,626.5 L817.5,627 L816.4,637"/>
<!-- dashed verticals -->
<path class="d" stroke-dasharray="19 4 18 3" d="M806.4,639 L803.4,681"/>
<path class="d" stroke-dasharray="11 4 18 3" d="M815.4,643 L813.8,677"/>
<!-- 28 screw -->
<path class="t" d="M805.0,634.6 L819.0,642.6"/><path fill="#fff" stroke="#000" stroke-width="1.1" stroke-linejoin="round" d="M827.1,652.0 L819.0,642.6 L830.8,646.4 Z"/><path fill="none" stroke="#000" stroke-width="1.45" stroke-linecap="round" d="M822.0,646.2 L822.2,643.2 M823.6,648.0 L824.5,643.9 M825.2,649.9 L826.9,644.7 M826.8,651.8 L829.3,645.5"/><ellipse fill="#fff" stroke="#000" stroke-width="1.7" cx="831.6" cy="651.0" rx="3.6" ry="4.3" transform="rotate(33.7 831.6 651.0)"/><path class="t" d="M829.7,650.4 L833.5,651.6 M832.2,649.1 L831.0,652.9"/>
<path class="l" d="M837.5,652.7 L855,652.7"/>
<text class="tx" x="856.60 864.35" y="657.20">28</text>
<!-- 30 washer -->
<ellipse class="w" style="stroke-width:1.8" cx="830.5" cy="680.5" rx="4.6" ry="5.9" transform="rotate(-10 830.5 680.5)"/>
<ellipse class="m" cx="829.6" cy="680.6" rx="2.2" ry="3.6" transform="rotate(-10 829.6 680.6)"/>
<path class="m" d="M825.6,679.8 L829.4,680.2"/>
<path class="l" d="M830.5,689.4 L830.5,705"/>
<text class="tx" x="822.60 830.35" y="717.20">30</text>
<!-- 29 nut + screw -->
<path class="m" d="M837.5,681 L845,683.6 M838,679.4 L845.4,681.6"/>
<path class="m" style="stroke-width:1.35" d="M839.6,679.6 L839.2,682 M841.6,680.2 L841.2,682.6 M843.6,680.8 L843.2,683.2"/>
<path class="w" style="stroke-width:1.8" d="M846.6,679.8 L849.6,678 L853.6,678.2 L855.4,680.6 L855.4,685.4 L852.4,688.4 L848.2,688.2 L845.8,685.6 Z"/>
<ellipse class="m" cx="849.4" cy="683" rx="2.2" ry="3" transform="rotate(-10 849.4 683)"/>
<path class="m" d="M853.6,678.2 L852.6,681 M855.4,685.4 L853,684.6"/>
<path class="l" d="M851.5,693 L851.5,716.6"/>
<text class="tx" x="844.40 852.15" y="730.00">29</text>
<!-- 10 block -->
<path class="wk" d="M509.5,745.5 L516,742.6 L524.5,749.5 L524.5,760 L516,763 L509,758 Z"/>
<path class="m" d="M509.5,745.5 L516.5,751 L524.5,749.5 M516.5,751 L516,763"/>
<path class="m" d="M521.6,752.6 Q518.2,752.2 518,755 Q518.2,757.6 521,757.6"/>
<circle class="t" cx="512.5" cy="757.3" r="1.1"/>
<path class="l" d="M514.3,721.6 L514.3,740"/>
<text class="tx" x="506.45 514.00" y="718.20">10</text><path class="er" d="M506.55,716.20h2.95v3h-2.95z M511.50,716.20h3v3h-3z"/>
<!-- dashed from 10 -->
<path class="d" d="M507,744 L504.5,742.5"/>
<path class="d" stroke-dasharray="14 4 20 4 17 4" d="M504.5,743 L504.3,802.5"/>
<!-- 11 screw -->
<path fill="#fff" stroke="#000" stroke-width="1.1" stroke-linejoin="round" d="M533.6,769.6 L526.5,760.0 L537.5,764.6 Z"/><path fill="none" stroke="#000" stroke-width="1.45" stroke-linecap="round" d="M529.2,763.7 L529.5,760.8 M530.6,765.6 L531.7,761.7 M532.0,767.5 L533.9,762.6 M533.4,769.4 L536.1,763.5"/><ellipse fill="#fff" stroke="#000" stroke-width="1.7" cx="538.0" cy="769.0" rx="3.4" ry="4.1" transform="rotate(38.0 538.0 769.0)"/><path class="t" d="M536.2,768.4 L539.8,769.6 M538.6,767.2 L537.4,770.8"/>
<path class="l" d="M536,745.6 L536,761.4"/>
<text class="tx" x="528.85 535.85" y="741.60">11</text><path class="er" d="M528.95,739.60h2.95v3h-2.95z M533.90,739.60h3v3h-3z"/><path class="er" d="M535.95,739.60h2.95v3h-2.95z M540.90,739.60h3v3h-3z"/>
<!-- 12 screw -->
<path fill="#fff" stroke="#000" stroke-width="1.1" stroke-linejoin="round" d="M459.0,821.7 L470.0,821.5 L461.2,828.1 Z"/><path fill="none" stroke="#000" stroke-width="1.45" stroke-linecap="round" d="M465.8,821.6 L468.0,823.6 M463.6,821.6 L466.3,824.9 M461.4,821.6 L464.5,826.2 M459.2,821.7 L462.8,827.6"/><ellipse fill="#fff" stroke="#000" stroke-width="1.7" cx="457.0" cy="826.0" rx="3.7" ry="4.4" transform="rotate(160.9 457.0 826.0)"/><path class="t" d="M455.0,825.4 L459.0,826.6 M457.6,824.0 L456.4,828.0"/>
<path class="l" d="M456.2,805.6 L456.2,819"/>
<text class="tx" x="448.05 455.60" y="802.60">12</text><path class="er" d="M448.15,800.60h2.95v3h-2.95z M453.10,800.60h3v3h-3z"/>
<!-- 13 washer -->
<path class="t" d="M484.5,817 L495,813"/>
<ellipse class="wk" cx="478" cy="819" rx="5.2" ry="6.3" transform="rotate(-15 478 819)"/>
<ellipse class="k" cx="478.6" cy="818.8" rx="2.2" ry="3" transform="rotate(-15 478.6 818.8)"/>
<path class="l" d="M480.3,828 L480.3,841"/>
<text class="tx" x="472.05 479.60" y="854.20">13</text><path class="er" d="M472.15,852.20h2.95v3h-2.95z M477.10,852.20h3v3h-3z"/>
<!-- 15 washer -->
<ellipse class="wk" cx="597.7" cy="823" rx="5.4" ry="6.1" transform="rotate(-30 597.7 823)"/>
<ellipse class="m" cx="598" cy="823" rx="2.6" ry="3.2" transform="rotate(-30 598 823)"/>
<path class="t" d="M596.6,824.8 L599.6,821.2"/>
<path class="l" d="M595,830.8 L595,844.6"/>
<text class="tx" x="586.85 594.40" y="856.80">15</text><path class="er" d="M586.95,854.80h2.95v3h-2.95z M591.90,854.80h3v3h-3z"/>
<!-- 14 screw -->
<path fill="#fff" stroke="#000" stroke-width="1.1" stroke-linejoin="round" d="M611.3,835.9 L603.3,825.3 L615.5,830.6 Z"/><path fill="none" stroke="#000" stroke-width="1.45" stroke-linecap="round" d="M606.2,829.3 L606.7,826.3 M607.8,831.4 L609.1,827.3 M609.4,833.5 L611.6,828.4 M611.0,835.7 L614.0,829.4"/><ellipse fill="#fff" stroke="#000" stroke-width="1.7" cx="616.0" cy="835.3" rx="3.7" ry="4.4" transform="rotate(38.2 616.0 835.3)"/><path class="t" d="M614.0,834.7 L618.0,835.9 M616.6,833.3 L615.4,837.3"/>
<path class="l" d="M623.3,835.3 L644.7,835.3"/>
<text class="tx" x="645.45 653.00" y="840.80">14</text><path class="er" d="M645.55,838.80h2.95v3h-2.95z M650.50,838.80h3v3h-3z"/>
</g>

</svg>
</body></html>
